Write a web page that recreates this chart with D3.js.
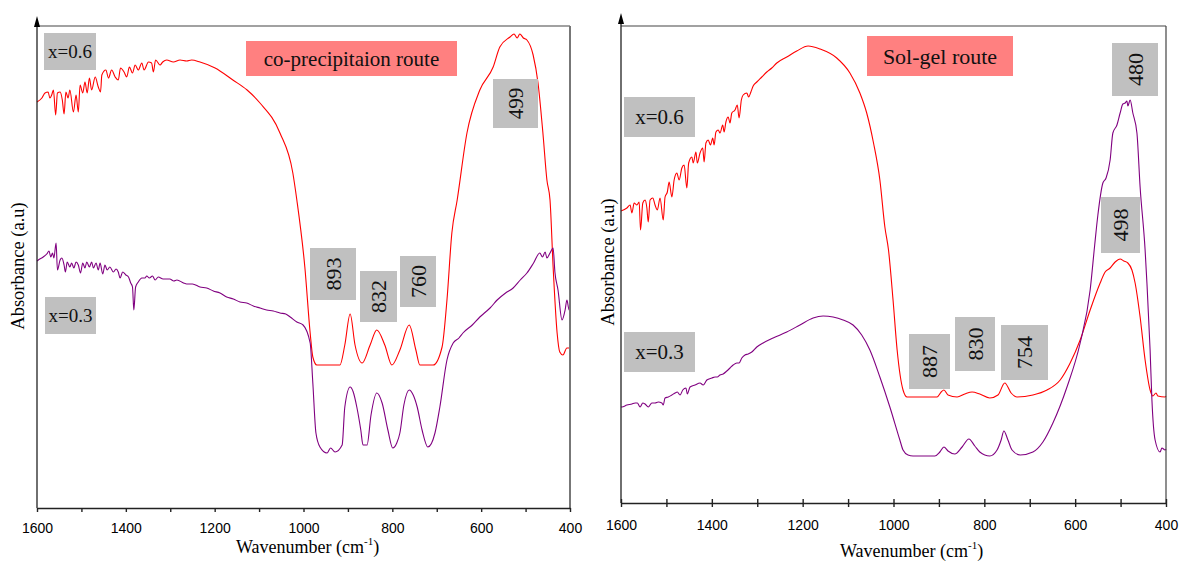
<!DOCTYPE html>
<html><head><meta charset="utf-8">
<script src="https://cdn.jsdelivr.net/npm/d3@7"></script>
<style>body{margin:0;background:#fff} svg{display:block}</style>
</head><body><svg id="c" width="1180" height="561"></svg>
<script>
// ---------- DATA (wavenumber cm-1, absorbance a.u.) ----------
const majorTicks = [1600, 1400, 1200, 1000, 800, 600, 400];
const minorTicks = [1500, 1300, 1100, 900, 700, 500];

// co-precipitation route, x=0.6
const coPrecip06 = [[1600,4.06],[1589,4.10],[1582,4.15],[1575,4.16],[1571,4.10],[1567,4.13],[1563,4.18],[1558,3.93],[1554,4.15],[1548,4.16],
[1543,4.08],[1539,3.94],[1535,4.16],[1530,4.10],[1526,4.18],[1518,3.96],[1512,4.13],[1507,3.96],[1503,4.23],[1497,4.15],
[1492,4.26],[1487,4.15],[1482,4.30],[1477,4.18],[1469,4.31],[1462,4.21],[1457,4.16],[1454,4.33],[1445,4.38],[1439,4.30],
[1432,4.38],[1424,4.31],[1417,4.28],[1412,4.40],[1404,4.36],[1398,4.31],[1392,4.41],[1385,4.35],[1379,4.43],[1372,4.38],
[1364,4.45],[1359,4.38],[1349,4.46],[1342,4.45],[1338,4.36],[1333,4.48],[1323,4.43],[1317,4.46],[1308,4.48],[1293,4.46],
[1278,4.48],[1263,4.47],[1252,4.48],[1233,4.46],[1199,4.40],[1159,4.28],[1127,4.18],[1098,4.05],[1053,3.75],[1024,3.35],[1015,3.08],[997,2.41],
[985,1.75],[979,1.51],[970,1.43],[918,1.43],[907,1.63],[895,1.94],[884,1.63],[868,1.45],[850,1.63],[835,1.78],
[817,1.63],[801,1.43],[783,1.58],[762,1.83],[747,1.58],[738,1.43],[708,1.43],[688,1.61],[677,2.08],[666,2.75],
[654,3.08],[632,3.75],[603,4.18],[573,4.41],[558,4.61],[535,4.71],[526,4.74],[519,4.70],[513,4.74],[505,4.70],[497,4.68],
[483,4.53],[472,4.25],[461,3.75],[452,3.28],[445,3.08],[438,2.41],[429,1.75],[423,1.56],[416,1.53],[407,1.60],[400,1.60]];

// co-precipitation route, x=0.3
const coPrecip03 = [[1600,2.47],[1597,2.48],[1586,2.51],[1578,2.54],[1573,2.57],[1569,2.51],[1565,2.55],[1562,2.50],[1557,2.65],[1554,2.38],[1548,2.48],
[1544,2.50],[1539,2.43],[1536,2.36],[1532,2.46],[1526,2.41],[1522,2.45],[1517,2.40],[1512,2.46],[1507,2.43],[1502,2.35],
[1497,2.45],[1492,2.40],[1488,2.46],[1482,2.41],[1477,2.46],[1473,2.40],[1467,2.45],[1462,2.38],[1458,2.45],[1452,2.34],
[1447,2.43],[1442,2.38],[1436,2.41],[1428,2.36],[1422,2.39],[1417,2.36],[1413,2.30],[1407,2.36],[1400,2.33],[1394,2.31],
[1389,2.25],[1385,2.21],[1382,1.98],[1378,2.21],[1372,2.26],[1364,2.30],[1357,2.30],[1353,2.32],[1347,2.30],[1340,2.32],
[1334,2.28],[1327,2.31],[1316,2.29],[1301,2.29],[1292,2.27],[1285,2.28],[1270,2.25],[1263,2.24],[1250,2.24],[1233,2.21],[1218,2.20],[1203,2.17],
[1188,2.15],[1173,2.11],[1158,2.09],[1143,2.06],[1128,2.05],[1113,2.02],[1098,2.00],[1083,1.98],[1068,1.97],[1053,1.95],[1040,1.94],[1030,1.91],[1015,1.86],
[1001,1.83],[985,1.65],[979,1.25],[972,0.75],[963,0.61],[947,0.55],[939,0.60],[929,0.56],[913,0.63],[907,1.01],
[895,1.21],[888,1.16],[880,1.01],[871,0.78],[866,0.63],[857,0.63],[848,0.93],[835,1.15],[823,1.05],[810,0.78],
[799,0.60],[790,0.65],[783,0.75],[774,1.03],[762,1.18],[753,1.13],[744,1.01],[733,0.78],[720,0.61],[704,0.75],
[693,1.01],[677,1.48],[663,1.65],[650,1.70],[641,1.75],[620,1.83],[603,1.91],[590,1.96],[580,2.00],[564,2.08],[545,2.15],[528,2.20],[512,2.28],[497,2.35],
[482,2.45],[468,2.55],[462,2.51],[456,2.56],[452,2.50],[445,2.55],[438,2.60],[434,2.36],[427,2.18],[418,1.88],[411,1.98],
[407,2.08],[402,1.98],[400,2.03]];

// sol-gel route, x=0.6
const solGel06 = [[1600,2.92],[1587,2.95],[1580,2.98],[1576,2.90],[1571,3.00],[1565,2.98],[1560,3.01],[1557,2.73],[1552,3.00],[1547,3.03],
[1543,2.95],[1540,2.81],[1536,3.03],[1530,3.05],[1525,2.98],[1520,2.93],[1514,3.05],[1507,2.83],[1503,3.06],[1498,3.11],
[1494,3.21],[1488,3.06],[1483,3.23],[1477,3.30],[1472,3.23],[1466,3.35],[1461,3.38],[1455,3.15],[1451,3.40],[1444,3.46],
[1441,3.40],[1435,3.51],[1432,3.40],[1426,3.50],[1420,3.55],[1417,3.41],[1413,3.60],[1408,3.63],[1403,3.58],[1398,3.65],
[1395,3.58],[1391,3.71],[1386,3.73],[1382,3.70],[1376,3.78],[1373,3.71],[1369,3.81],[1364,3.86],[1360,3.80],[1356,3.90],
[1349,3.93],[1344,3.98],[1340,3.85],[1335,4.03],[1331,4.08],[1323,4.10],[1319,4.06],[1314,4.11],[1309,4.17],[1301,4.21],
[1290,4.26],[1279,4.31],[1268,4.35],[1257,4.40],[1235,4.46],[1213,4.52],[1188,4.57],[1162,4.54],[1125,4.45],[1096,4.30],
[1074,4.10],[1059,3.90],[1044,3.60],[1030,3.23],[1019,2.76],[1011,2.53],[1001,2.03],[992,1.53],[979,1.13],[970,1.06],
[904,1.06],[895,1.11],[889,1.13],[880,1.08],[860,1.06],[843,1.09],[827,1.11],[810,1.09],[788,1.05],[770,1.08],
[755,1.20],[741,1.10],[728,1.06],[693,1.08],[662,1.13],[633,1.23],[611,1.40],[589,1.63],[567,1.93],[545,2.20],
[534,2.31],[523,2.35],[512,2.41],[501,2.44],[493,2.42],[484,2.40],[475,2.33],[468,2.20],[457,1.86],[446,1.43],
[435,1.13],[429,1.07],[422,1.10],[418,1.07],[402,1.06],[400,1.07]];

// sol-gel route, x=0.3
const solGel03 = [[1600,0.96],[1598,0.96],[1587,0.98],[1576,0.99],[1569,1.00],[1564,1.00],[1558,0.96],[1552,1.00],[1547,0.99],[1540,0.96],
[1532,1.00],[1525,1.00],[1518,1.01],[1510,1.00],[1507,0.98],[1503,1.05],[1496,1.06],[1488,1.08],[1481,1.10],[1476,1.11],
[1470,1.08],[1464,1.13],[1457,1.15],[1454,1.09],[1448,1.16],[1437,1.18],[1426,1.20],[1419,1.18],[1411,1.23],[1400,1.25],
[1393,1.26],[1388,1.26],[1382,1.28],[1375,1.29],[1367,1.32],[1360,1.35],[1353,1.38],[1345,1.40],[1340,1.40],[1334,1.45],
[1327,1.48],[1320,1.49],[1312,1.51],[1301,1.56],[1287,1.60],[1265,1.65],[1235,1.71],[1206,1.78],[1177,1.85],[1155,1.87],
[1133,1.86],[1111,1.83],[1089,1.78],[1070,1.68],[1052,1.53],[1030,1.26],[1008,0.96],[986,0.63],[979,0.53],[968,0.48],
[957,0.47],[909,0.47],[898,0.51],[889,0.56],[880,0.52],[865,0.49],[849,0.56],[834,0.64],[821,0.57],[810,0.51],
[788,0.47],[772,0.53],[763,0.63],[757,0.72],[748,0.63],[739,0.53],[721,0.48],[693,0.51],[671,0.61],[649,0.80],
[618,1.16],[589,1.60],[567,2.13],[557,2.58],[550,2.88],[539,3.20],[532,3.25],[523,3.43],[517,3.70],[508,3.78],[501,3.90],
[495,3.99],[490,4.00],[486,4.02],[484,3.97],[479,4.03],[473,3.90],[464,3.70],[457,3.16],[446,2.53],[442,2.20],
[435,1.53],[431,1.03],[424,0.63],[413,0.51],[409,0.55],[402,0.53],[400,0.54]];

// ---------- DRAW ----------
const svg = d3.select("#c");
const SERIF = "'Liberation Serif','Times New Roman',serif";
const SANS = "'Liberation Sans',Arial,sans-serif";

function drawPanel(cfg) {
  const g = svg.append("g");
  const x = d3.scaleLinear().domain([1600, 400]).range([cfg.x0, cfg.x1]);
  const y = d3.scaleLinear().domain([0, cfg.yMax]).range([cfg.yBot, cfg.yTop]);
  const line = d3.line().x(d => x(d[0])).y(d => y(d[1])).curve(d3.curveMonotoneX);

  cfg.series.forEach(s => {
    g.append("path").datum(s.data).attr("d", line)
      .attr("fill", "none").attr("stroke", s.color).attr("stroke-width", 1.1)
      .attr("stroke-linejoin", "round");
  });

  // frame top & right
  g.append("line").attr("x1", cfg.x0).attr("x2", cfg.x1).attr("y1", cfg.yTop).attr("y2", cfg.yTop)
    .attr("stroke", "#444").attr("stroke-width", 1.2);
  g.append("line").attr("x1", cfg.x1).attr("x2", cfg.x1).attr("y1", cfg.yTop).attr("y2", cfg.yBot)
    .attr("stroke", cfg.rightColor).attr("stroke-width", cfg.rightWidth);

  // y axis with arrow
  g.append("line").attr("x1", cfg.x0).attr("x2", cfg.x0).attr("y1", cfg.yBot).attr("y2", cfg.arrowTip + 8)
    .attr("stroke", "#222").attr("stroke-width", 1.3);
  g.append("path")
    .attr("d", `M${cfg.x0},${cfg.arrowTip} L${cfg.x0 - 3},${cfg.arrowTip + 11} L${cfg.x0 + 3},${cfg.arrowTip + 11} Z`)
    .attr("fill", "#000");

  // x axis
  const ax = g.append("g").attr("transform", `translate(0,${cfg.yBot})`)
    .call(d3.axisBottom(x).tickValues(majorTicks).tickSize(cfg.tick).tickSizeOuter(0).tickFormat(d3.format("d")));
  const axm = g.append("g").attr("transform", `translate(0,${cfg.yBot})`)
    .call(d3.axisBottom(x).tickValues(minorTicks).tickSize(cfg.tick).tickSizeOuter(0).tickFormat(""));
  axm.select(".domain").remove();
  [ax, axm].forEach(a => {
    a.selectAll(".domain").attr("stroke", "#222").attr("stroke-width", 1.5);
    a.selectAll(".tick line").attr("stroke", "#222").attr("stroke-width", 1.4);
    if (cfg.cross) a.selectAll(".tick line").attr("y1", -cfg.tick).attr("y2", cfg.tick);
  });
  ax.selectAll(".tick text").attr("y", cfg.labelBase - cfg.yBot).attr("dy", null)
    .attr("font-family", SANS).attr("font-size", 14).attr("fill", "#000");

  // x title
  const t = g.append("text").attr("x", cfg.xTitleX).attr("y", cfg.xTitleY)
    .attr("font-family", SERIF).attr("font-size", 18).attr("fill", "#000");
  t.append("tspan").text("Wavenumber (cm");
  t.append("tspan").attr("font-size", 11).attr("dy", -8).text("-1");
  t.append("tspan").attr("dy", 8).text(")");

  // y title
  g.append("text").attr("transform", `translate(${cfg.yTitleX},${cfg.yTitleY}) rotate(-90)`)
    .attr("text-anchor", "middle").attr("font-family", SERIF).attr("font-size", 18.5).attr("fill", "#000")
    .text("Absorbance (a.u)");
  return g;
}

function labelBox(x, y, w, h, fill, txt, size, rotate) {
  svg.append("rect").attr("x", x).attr("y", y).attr("width", w).attr("height", h).attr("fill", fill);
  const cx = x + w / 2, cy = y + h / 2;
  svg.append("text")
    .attr("transform", rotate ? `translate(${cx},${cy}) rotate(-90)` : `translate(${cx},${cy})`)
    .attr("text-anchor", "middle").attr("dominant-baseline", "central")
    .attr("font-family", SERIF).attr("font-size", size).attr("fill", "#111").text(txt);
}

drawPanel({
  x0: 37, x1: 570, yTop: 26, yBot: 508, yMax: 4.82, tick: 4, cross: false, labelBase: 533,
  arrowTip: 16, rightColor: "#777", rightWidth: 2,
  xTitleX: 236, xTitleY: 553, yTitleX: 24, yTitleY: 266,
  series: [{ data: coPrecip06, color: "#ff0000" }, { data: coPrecip03, color: "#800080" }]
});
drawPanel({
  x0: 621, x1: 1166, yTop: 26, yBot: 503, yMax: 4.77, tick: 4, cross: true, labelBase: 530,
  arrowTip: 13, rightColor: "#444", rightWidth: 1.2,
  xTitleX: 840, xTitleY: 557, yTitleX: 614, yTitleY: 262,
  series: [{ data: solGel06, color: "#ff0000" }, { data: solGel03, color: "#800080" }]
});

const GRAY = "#c0c0c0", PINK = "#ff8080";
// left panel annotations
labelBox(44, 33, 52, 37, GRAY, "x=0.6", 19, false);
labelBox(246, 41, 211, 35, PINK, "co-precipitaion route", 21, false);
labelBox(493, 79, 45, 49, GRAY, "499", 21, true);
labelBox(45, 297, 51, 37, GRAY, "x=0.3", 19, false);
labelBox(310, 248, 46, 52, GRAY, "893", 22, true);
labelBox(360, 271, 37, 51, GRAY, "832", 22, true);
labelBox(400, 256, 36, 51, GRAY, "760", 22, true);
// right panel annotations
labelBox(624, 97, 71, 40, GRAY, "x=0.6", 21, false);
labelBox(867, 36, 146, 40, PINK, "Sol-gel route", 22, false);
labelBox(1112, 43, 46, 53, GRAY, "480", 22, true);
labelBox(1101, 197, 39, 56, GRAY, "498", 22, true);
labelBox(624, 332, 71, 40, GRAY, "x=0.3", 21, false);
labelBox(909, 334, 41, 55, GRAY, "887", 22, true);
labelBox(955, 317, 40, 54, GRAY, "830", 22, true);
labelBox(1001, 325, 47, 55, GRAY, "754", 22, true);
</script></body></html>
